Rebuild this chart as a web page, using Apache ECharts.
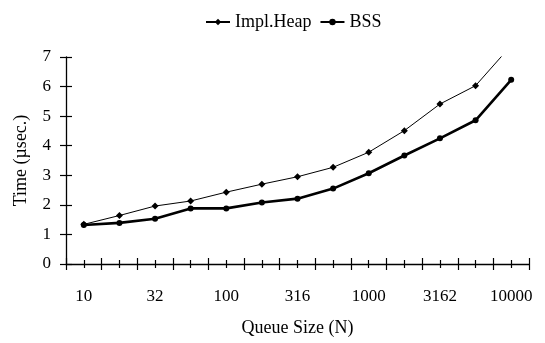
<!DOCTYPE html>
<html>
<head>
<meta charset="utf-8">
<script src="https://cdn.jsdelivr.net/npm/echarts@6/dist/echarts.min.js"></script>
<style>
  html, body { margin: 0; padding: 0; background: #fff; }
  #chart { width: 545px; height: 343px; }
</style>
</head>
<body>
<div id="chart"></div>
<script>
// Queue sizes, log-spaced (quarter decades)
const queueSizes = ['10', '18', '32', '56', '100', '178', '316', '562', '1000', '1778', '3162', '5623', '10000'];
// Time per operation in microseconds
const implHeap = [1.34, 1.64, 1.96, 2.13, 2.43, 2.70, 2.95, 3.27, 3.78, 4.51, 5.41, 6.03, 7.39];
const bss      = [1.32, 1.39, 1.53, 1.88, 1.88, 2.08, 2.21, 2.55, 3.07, 3.67, 4.25, 4.86, 6.23];
const yTicks = { min: 0, max: 7, interval: 1 };

const FONT = 'Liberation Serif';
const INK = '#000';

// Excel-style ticks that cross the axis line: one axis draws the outer half,
// a twin draws the inner half.
function xTwin(inside, centered, len, main) {
  return {
    type: 'category',
    data: queueSizes,
    position: 'bottom',
    boundaryGap: true,
    axisLine: { show: main, onZero: false, lineStyle: { color: INK, width: 1.3 } },
    axisTick: { show: true, inside: inside, alignWithLabel: centered, length: len, interval: 0,
                lineStyle: { color: INK, width: 1.2 } },
    axisLabel: main ? { show: true, interval: 1, color: INK, fontFamily: FONT, fontSize: 17, margin: 24 }
                    : { show: false },
    splitLine: { show: false },
    name: main ? 'Queue Size (N)' : '',
    nameLocation: 'middle',
    nameGap: 55,
    nameTextStyle: { color: INK, fontFamily: FONT, fontSize: 18 }
  };
}
function yTwin(inside, main) {
  return {
    type: 'value',
    position: 'left',
    min: yTicks.min, max: yTicks.max, interval: yTicks.interval,
    axisLine: { show: main, lineStyle: { color: INK, width: 1.3 } },
    axisTick: { show: true, inside: inside, length: 6, lineStyle: { color: INK, width: 1.2 } },
    axisLabel: main ? { show: true, color: INK, fontFamily: FONT, fontSize: 17, margin: 15 }
                    : { show: false },
    splitLine: { show: false },
    name: main ? 'Time (\u00b5sec.)' : '',
    nameLocation: 'middle',
    nameGap: 36,
    nameTextStyle: { color: INK, fontFamily: FONT, fontSize: 18 }
  };
}

const chart = echarts.init(document.getElementById('chart'), null, { renderer: 'canvas' });
chart.setOption({
  animation: false,
  backgroundColor: '#fff',
  grid: { left: 66, right: 16, top: 57, bottom: 79, containLabel: false },
  legend: {
    top: 8, left: 200,
    itemWidth: 24, itemHeight: 8, itemGap: 8,
    textStyle: { color: INK, fontFamily: FONT, fontSize: 18 },
    data: ['Impl.Heap', 'BSS']
  },
  xAxis: [
    xTwin(false, false, 6, true),
    xTwin(true, false, 6, false),
    xTwin(false, true, 4, false),
    xTwin(true, true, 4, false)
  ],
  yAxis: [yTwin(false, true), yTwin(true, false)],
  series: [
    {
      name: 'Impl.Heap', type: 'line', data: implHeap,
      xAxisIndex: 0, yAxisIndex: 0, clip: true,
      symbol: 'diamond', symbolSize: 7, showSymbol: true,
      lineStyle: { color: INK, width: 1 },
      itemStyle: { color: INK, borderWidth: 0 }
    },
    {
      name: 'BSS', type: 'line', data: bss,
      xAxisIndex: 0, yAxisIndex: 0, clip: true,
      symbol: 'circle', symbolSize: 6, showSymbol: true,
      lineStyle: { color: INK, width: 2.6 },
      itemStyle: { color: INK, borderWidth: 0 }
    }
  ]
});
</script>
</body>
</html>
